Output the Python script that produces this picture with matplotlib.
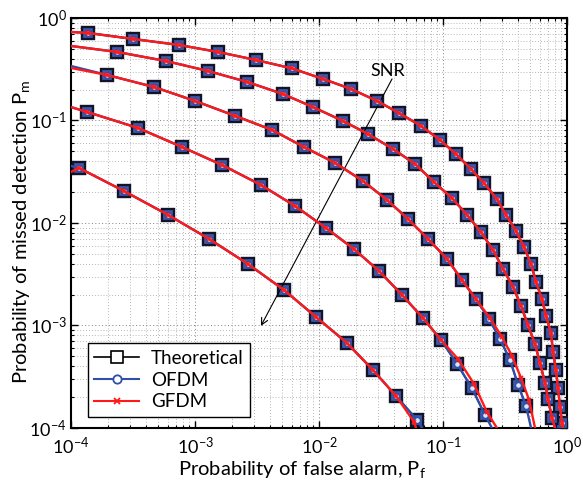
import matplotlib
matplotlib.use('Agg')
import matplotlib.pyplot as plt
from matplotlib.lines import Line2D

plt.rcParams['font.family'] = ['Lato', 'DejaVu Sans']
plt.rcParams['mathtext.default'] = 'regular'

# ---------------- data ----------------
# Theoretical markers, curve 1 (lowest SNR) ... curve 5 (highest SNR)
pf_th1 = [1.37e-4, 3.16e-4, 7.43e-4, 1.53e-3, 3.10e-3, 6.05e-3, 0.0108, 0.0181, 0.0294, 0.0442,
          0.0665, 0.0946, 0.127, 0.168, 0.214, 0.272, 0.322, 0.388, 0.450, 0.513,
          0.562, 0.628, 0.678, 0.743, 0.771, 0.815, 0.845, 0.879, 0.912]
pm_th1 = [0.714, 0.624, 0.545, 0.466, 0.389, 0.322, 0.254, 0.203, 0.155, 0.118,
          0.0884, 0.0645, 0.0471, 0.0336, 0.0245, 0.0171, 0.0120, 0.00835, 0.00583, 0.00398,
          0.00266, 0.00181, 0.00124, 0.000845, 0.000551, 0.000368, 0.000245, 0.000160, 0.000112]

pf_th2 = [2.35e-4, 5.83e-4, 1.27e-3, 2.62e-3, 5.13e-3, 8.95e-3, 0.0156, 0.0248, 0.0395, 0.0594,
          0.0845, 0.118, 0.156, 0.202, 0.253, 0.305, 0.367, 0.426, 0.484, 0.552,
          0.605, 0.665, 0.703, 0.757]
pm_th2 = [0.466, 0.380, 0.304, 0.238, 0.181, 0.135, 0.0989, 0.0739, 0.0527, 0.0377,
          0.0251, 0.0175, 0.0120, 0.00817, 0.00545, 0.00356, 0.00238, 0.00155, 0.00101, 0.000660,
          0.000431, 0.000275, 0.000192, 0.000125]

pf_th3 = [1.95e-4, 4.67e-4, 1.00e-3, 2.10e-3, 4.18e-3, 7.57e-3, 0.0135, 0.0226, 0.0353, 0.0523,
          0.0757, 0.108, 0.142, 0.184, 0.235, 0.288, 0.347, 0.403, 0.467]
pm_th3 = [0.278, 0.212, 0.155, 0.111, 0.0808, 0.0551, 0.0385, 0.0257, 0.0168, 0.0109,
          0.00698, 0.00445, 0.00278, 0.00181, 0.00116, 0.000738, 0.000461, 0.000263, 0.000164]

pf_th4 = [1.35e-4, 3.47e-4, 7.85e-4, 1.65e-3, 3.40e-3, 6.40e-3, 0.0114, 0.0191, 0.0305, 0.0466,
          0.0690, 0.0964, 0.130, 0.171, 0.218]
pm_th4 = [0.121, 0.0845, 0.0551, 0.0368, 0.0235, 0.01465, 0.00893, 0.00557, 0.00340, 0.00199,
          0.00118, 0.000722, 0.000421, 0.000245, 0.000134]

pf_th5 = [1.16e-4, 2.67e-4, 6.05e-4, 1.30e-3, 2.67e-3, 5.22e-3, 9.46e-3, 0.0168, 0.0272, 0.0418, 0.0617]
pm_th5 = [0.0344, 0.0205, 0.0120, 0.00698, 0.00398, 0.00222, 0.00121, 0.000675, 0.000368, 0.000205, 0.000120]

# OFDM simulated curves (start at left edge, end at bottom edge)
pf_ofdm1 = [1e-4] + pf_th1 + [0.925]
pm_ofdm1 = [0.730] + pm_th1 + [1.0e-4]
pf_ofdm2 = [1e-4] + pf_th2 + [0.80]
pm_ofdm2 = [0.533] + pm_th2 + [1.0e-4]
pf_ofdm3 = [1e-4] + pf_th3 + [0.513]
pm_ofdm3 = [0.340] + pm_th3 + [1.0e-4]
pf_ofdm4 = [1e-4] + pf_th4 + [0.248]
pm_ofdm4 = [0.135] + pm_th4 + [1.0e-4]
pf_ofdm5 = [1e-4] + pf_th5 + [0.0678]
pm_ofdm5 = [0.036] + pm_th5 + [1.0e-4]

# GFDM simulated curves
pf_gfdm1 = [1e-4] + pf_th1 + [0.925]
pm_gfdm1 = [0.730] + pm_th1 + [1.0e-4]
pf_gfdm2 = [1e-4] + pf_th2 + [0.80]
pm_gfdm2 = [0.533] + pm_th2 + [1.0e-4]
pf_gfdm3 = [1e-4, 1.95e-4, 4.67e-4, 1.00e-3, 2.10e-3, 4.18e-3, 7.57e-3, 0.0135, 0.0226, 0.0353, 0.0523,
            0.0757, 0.108, 0.142, 0.184, 0.239, 0.299, 0.360, 0.426, 0.494, 0.552]
pm_gfdm3 = [0.325, 0.278, 0.212, 0.155, 0.111, 0.0808, 0.0551, 0.0385, 0.0257, 0.0168, 0.0109,
            0.00698, 0.00445, 0.00278, 0.00181, 0.00118, 0.000772, 0.000504, 0.000307, 0.000188, 1.0e-4]
pf_gfdm4 = [1e-4, 1.35e-4, 3.47e-4, 7.85e-4, 1.65e-3, 3.40e-3, 6.40e-3, 0.0114, 0.0191, 0.0305, 0.0466,
            0.0690, 0.0964, 0.132, 0.178, 0.226, 0.272]
pm_gfdm4 = [0.135, 0.121, 0.0845, 0.0551, 0.0368, 0.0235, 0.01465, 0.00893, 0.00557, 0.00340, 0.00199,
            0.00118, 0.000722, 0.000471, 0.000269, 0.000143, 1.0e-4]
pf_gfdm5 = [1e-4, 1.16e-4, 2.67e-4, 6.05e-4, 1.30e-3, 2.67e-3, 5.22e-3, 9.46e-3, 0.0168, 0.0272, 0.0418,
            0.0583, 0.0605]
pm_gfdm5 = [0.0315, 0.0344, 0.0205, 0.0120, 0.00698, 0.00398, 0.00222, 0.00121, 0.000675, 0.000368,
            0.000205, 0.000115, 1.0e-4]

theory = [(pf_th1, pm_th1), (pf_th2, pm_th2), (pf_th3, pm_th3), (pf_th4, pm_th4), (pf_th5, pm_th5)]
ofdm = [(pf_ofdm1, pm_ofdm1), (pf_ofdm2, pm_ofdm2), (pf_ofdm3, pm_ofdm3), (pf_ofdm4, pm_ofdm4), (pf_ofdm5, pm_ofdm5)]
gfdm = [(pf_gfdm1, pm_gfdm1), (pf_gfdm2, pm_gfdm2), (pf_gfdm3, pm_gfdm3), (pf_gfdm4, pm_gfdm4), (pf_gfdm5, pm_gfdm5)]

legend_labels = ['Theoretical', 'OFDM', 'GFDM']
x_label = 'Probability of false alarm, P$_f$'
y_label = 'Probability of missed detection P$_m$'

# SNR arrow (tail, head) and label position
snr_tail = (0.0388, 0.254)
snr_head = (3.4e-3, 9.9e-4)
snr_text_pos = (0.036, 0.304)

# ---------------- figure ----------------
BLUE = '#2F4FA8'
RED = '#FF1A1A'

fig = plt.figure(figsize=(5.83, 4.88), dpi=100)
ax = fig.add_axes([0.1218, 0.123, 0.8508, 0.8402])
ax.set_xscale('log')
ax.set_yscale('log')

for pf, pm in theory:
    ax.plot(pf, pm, color='k', lw=1.2, marker='s', ms=8.5, mfc='#3D5CB0', mec='#141428', mew=1.7, zorder=3)
for pf, pm in ofdm:
    ax.plot(pf, pm, color=BLUE, lw=1.7, marker='o', ms=4.5, mfc='#DDE4F5', mec=BLUE, mew=1.2,
            markevery=slice(1, len(pf) - 1), zorder=4)
for pf, pm in gfdm:
    ax.plot(pf, pm, color=RED, lw=1.7, marker='x', ms=3.5, mec=RED, mew=1.3,
            markevery=slice(1, len(pf) - 1), zorder=5)

ax.set_xlim(1e-4, 1)
ax.set_ylim(1e-4, 1)

ax.grid(True, which='major', ls=(0, (1, 2.5)), color='0.5', lw=0.7)
ax.grid(True, which='minor', ls=(0, (1, 2.5)), color='0.62', lw=0.6)
ax.set_axisbelow(True)
ax.tick_params(which='both', direction='in', top=True, right=True, labelsize=13)
ax.tick_params(which='major', length=5, width=1)
ax.tick_params(which='minor', length=2.5, width=0.8)
ax.tick_params(axis='x', pad=6)
ax.tick_params(axis='y', pad=3)
for s in ax.spines.values():
    s.set_linewidth(1.5)

ax.set_xlabel(x_label, fontsize=14.5, va='center')
ax.xaxis.set_label_coords(0.466, -0.102)
ax.set_ylabel(y_label, fontsize=14.5, va='center')
ax.yaxis.set_label_coords(-0.099, 0.479)

ax.annotate('', xy=snr_head, xytext=snr_tail,
            arrowprops=dict(arrowstyle='->', color='k', lw=0.8, shrinkA=0, shrinkB=0,
                            mutation_scale=12))
ax.text(snr_text_pos[0], snr_text_pos[1], 'SNR', ha='center', va='center', fontsize=13, zorder=6)

handles = [
    Line2D([], [], color='k', lw=1.2, marker='s', ms=8, mfc='white', mec='k', mew=1.2),
    Line2D([], [], color=BLUE, lw=1.5, marker='o', ms=6, mfc='white', mec=BLUE, mew=1.3),
    Line2D([], [], color=RED, lw=1.5, marker='x', ms=4, mec=RED, mew=1.3),
]
leg = ax.legend(handles, legend_labels, loc='lower left', bbox_to_anchor=(0.034, 0.027),
                borderaxespad=0, fontsize=13.5, frameon=True, fancybox=False, edgecolor='k',
                framealpha=1, handlelength=2.4, labelspacing=0.25, borderpad=0.35, handletextpad=0.6)
leg.get_frame().set_linewidth(1.0)
leg.set_zorder(10)

fig.savefig('out.png', dpi=100)
